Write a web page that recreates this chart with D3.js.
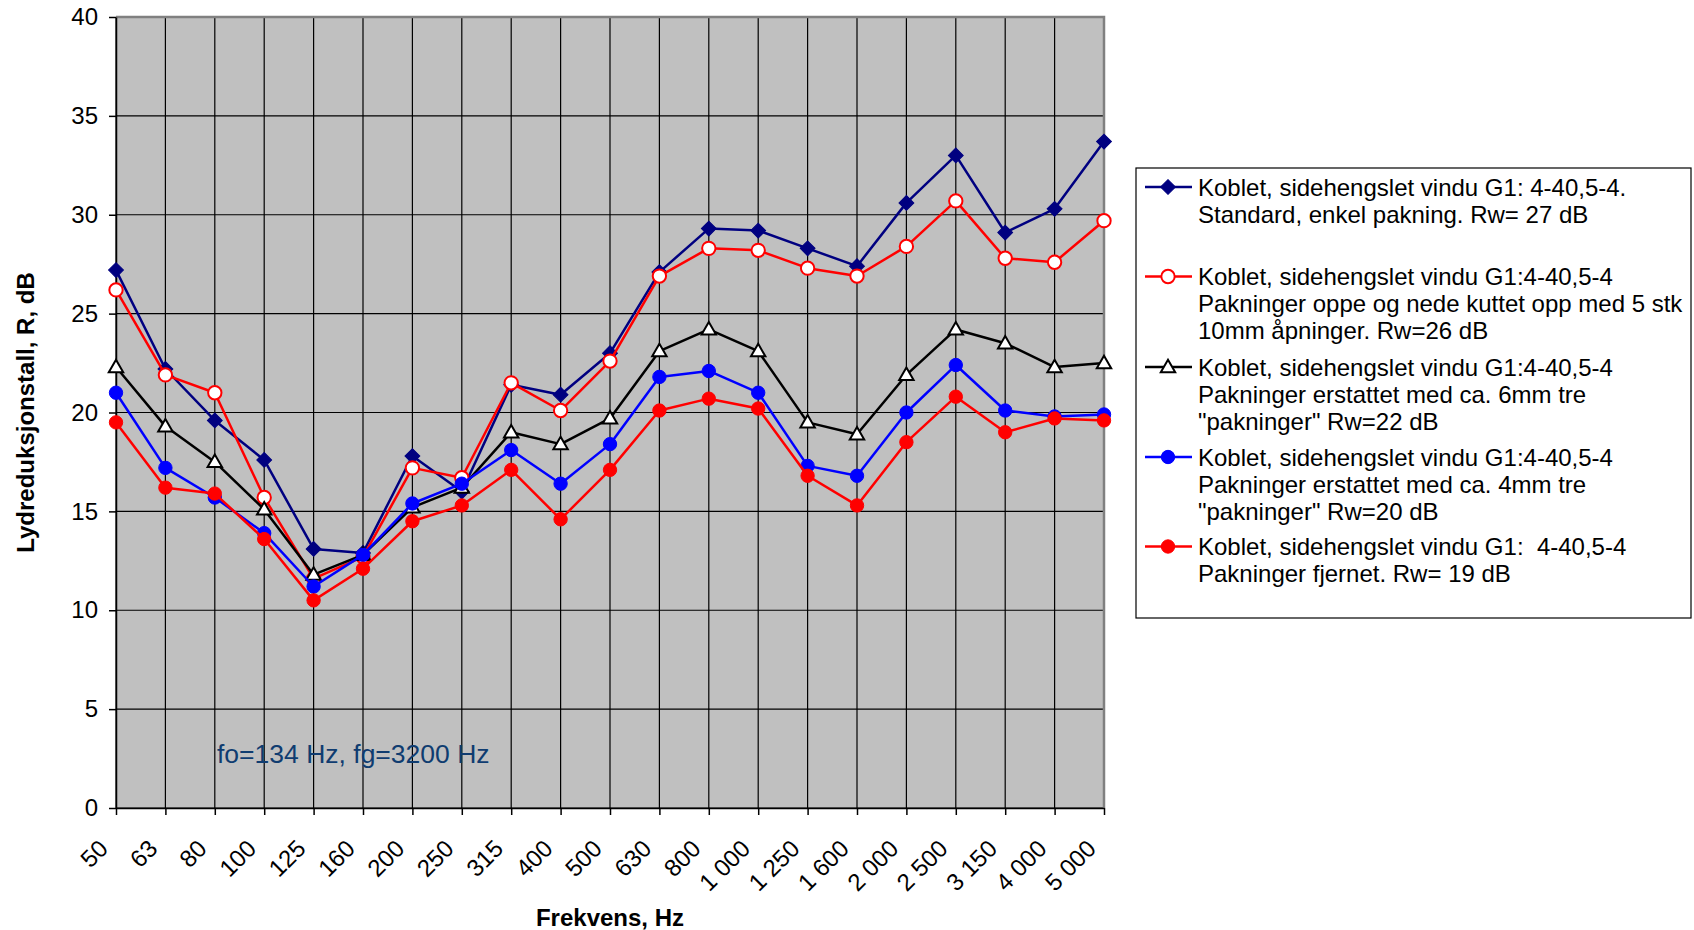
<!DOCTYPE html>
<html>
<head>
<meta charset="utf-8">
<script src="https://cdn.jsdelivr.net/npm/d3@7"></script>
<style>
  body { margin: 0; background: #ffffff; }
  text { font-family: "Liberation Sans", Arial, sans-serif; }
</style>
</head>
<body>
<svg id="chart" width="1694" height="930"></svg>
<script>
// Third-octave band centre frequencies (Hz)
const frequencies = ["50", "63", "80", "100", "125", "160", "200", "250", "315", "400", "500",
  "630", "800", "1 000", "1 250", "1 600", "2 000", "2 500", "3 150", "4 000", "5 000"];

// Sound reduction index R (dB) per band
const standardSeal   = [27.2, 22.2, 19.6, 17.6, 13.1, 12.9, 17.8, 16.0, 21.4, 20.9, 23.0,
  27.1, 29.3, 29.2, 28.3, 27.4, 30.6, 33.0, 29.1, 30.3, 33.7];
const cutSeals       = [26.2, 21.9, 21.0, 15.7, 11.6, 12.7, 17.2, 16.7, 21.5, 20.1, 22.6,
  26.9, 28.3, 28.2, 27.3, 26.9, 28.4, 30.7, 27.8, 27.6, 29.7];
const wood6mm        = [22.3, 19.3, 17.5, 15.1, 11.8, 12.8, 15.2, 16.2, 19.0, 18.4, 19.7,
  23.1, 24.2, 23.1, 19.5, 18.9, 21.9, 24.2, 23.5, 22.3, 22.5];
const wood4mm        = [21.0, 17.2, 15.7, 13.9, 11.2, 12.8, 15.4, 16.4, 18.1, 16.4, 18.4,
  21.8, 22.1, 21.0, 17.3, 16.8, 20.0, 22.4, 20.1, 19.8, 19.9];
const sealsRemoved   = [19.5, 16.2, 15.9, 13.6, 10.5, 12.1, 14.5, 15.3, 17.1, 14.6, 17.1,
  20.1, 20.7, 20.2, 16.8, 15.3, 18.5, 20.8, 19.0, 19.7, 19.6];

const yTicks = [0, 5, 10, 15, 20, 25, 30, 35, 40];

const seriesLabels = [
  ["Koblet, sidehengslet vindu G1: 4-40,5-4.", "Standard, enkel pakning. Rw= 27 dB", ""],
  ["Koblet, sidehengslet vindu G1:4-40,5-4", "Pakninger oppe og nede kuttet opp med 5 stk", "10mm åpninger. Rw=26 dB"],
  ["Koblet, sidehengslet vindu G1:4-40,5-4", "Pakninger erstattet med ca. 6mm tre", "\"pakninger\" Rw=22 dB"],
  ["Koblet, sidehengslet vindu G1:4-40,5-4", "Pakninger erstattet med ca. 4mm tre", "\"pakninger\" Rw=20 dB"],
  ["Koblet, sidehengslet vindu G1:  4-40,5-4", "Pakninger fjernet. Rw= 19 dB"]
];

const series = [
  { values: standardSeal, color: "#000080", marker: "diamond", fill: "#000080" },
  { values: cutSeals,     color: "#ff0000", marker: "circle",  fill: "#ffffff" },
  { values: wood6mm,      color: "#000000", marker: "triangle", fill: "#ffffff" },
  { values: wood4mm,      color: "#0000ff", marker: "circle",  fill: "#0000ff" },
  { values: sealsRemoved, color: "#ff0000", marker: "circle",  fill: "#ff0000" }
];
series.forEach((s, i) => { s.label = seriesLabels[i]; });

const svg = d3.select("#chart");
const plot = { left: 116, right: 1104, top: 17, bottom: 808 };

const x = d3.scalePoint().domain(frequencies).range([plot.left, plot.right]);
const y = d3.scaleLinear().domain([0, 40]).range([plot.bottom, plot.top]);

// plot background
svg.append("rect")
  .attr("x", plot.left).attr("y", plot.top)
  .attr("width", plot.right - plot.left).attr("height", plot.bottom - plot.top)
  .attr("fill", "#c0c0c0");

// grid
const grid = svg.append("g");
grid.selectAll("line.h").data(yTicks).join("line")
  .attr("x1", plot.left).attr("x2", plot.right)
  .attr("y1", d => y(d)).attr("y2", d => y(d))
  .attr("stroke", "#000").attr("stroke-width", 1.2);
grid.selectAll("line.v").data(frequencies).join("line")
  .attr("x1", d => x(d)).attr("x2", d => x(d))
  .attr("y1", plot.top).attr("y2", plot.bottom)
  .attr("stroke", "#000").attr("stroke-width", 1.2);

// plot frame: grey top/right
svg.append("path")
  .attr("d", `M${plot.left},${plot.top}H${plot.right}V${plot.bottom}`)
  .attr("fill", "none").attr("stroke", "#808080").attr("stroke-width", 2.5);

// y axis
const yAxis = svg.append("g")
  .attr("transform", `translate(${plot.left},0)`)
  .call(d3.axisLeft(y).tickValues(yTicks).tickSize(7).tickPadding(11).tickSizeOuter(0));
yAxis.select(".domain").attr("stroke", "#000").attr("stroke-width", 1.5);
yAxis.selectAll(".tick line").attr("stroke", "#000").attr("stroke-width", 1.5);
yAxis.selectAll(".tick text")
  .attr("font-family", "Liberation Sans, Arial, sans-serif")
  .attr("font-size", 24).attr("fill", "#000");

// x axis
const xAxis = svg.append("g")
  .attr("transform", `translate(0,${plot.bottom})`)
  .call(d3.axisBottom(x).tickSize(7).tickSizeOuter(0));
xAxis.select(".domain").attr("stroke", "#000").attr("stroke-width", 1.5);
xAxis.selectAll(".tick line").attr("stroke", "#000").attr("stroke-width", 1.5);
xAxis.selectAll(".tick text")
  .attr("font-family", "Liberation Sans, Arial, sans-serif")
  .attr("font-size", 24).attr("fill", "#000")
  .attr("text-anchor", "end")
  .attr("dy", null)
  .attr("y", 0)
  .attr("transform", "translate(-7,42) rotate(-45)");

// axis titles
svg.append("text")
  .attr("x", (plot.left + plot.right) / 2).attr("y", 926)
  .attr("text-anchor", "middle")
  .attr("font-size", 24).attr("font-weight", "bold")
  .text("Frekvens, Hz");
svg.append("text")
  .attr("transform", `translate(34,${(plot.top + plot.bottom) / 2}) rotate(-90)`)
  .attr("text-anchor", "middle")
  .attr("font-size", 24).attr("font-weight", "bold")
  .text("Lydreduksjonstall, R, dB");

// annotation
svg.append("text")
  .attr("x", 217).attr("y", 763)
  .attr("font-size", 26.5).attr("fill", "#0f3c70")
  .text("fo=134 Hz, fg=3200 Hz");

// marker shapes
function markerPath(type) {
  if (type === "diamond") return d3.symbol(d3.symbolSquare, 110)();
  if (type === "triangle") return d3.symbol(d3.symbolTriangle, 90)();
  return d3.symbol(d3.symbolCircle, 140)();
}
function markerTransform(type, px, py) {
  if (type === "diamond") return `translate(${px},${py}) rotate(45)`;
  if (type === "triangle") return `translate(${px},${py + 1})`;
  return `translate(${px},${py})`;
}

const line = d3.line()
  .x((d, i) => x(frequencies[i]))
  .y(d => y(d));

series.forEach(s => {
  const g = svg.append("g");
  g.append("path")
    .datum(s.values)
    .attr("d", line)
    .attr("fill", "none")
    .attr("stroke", s.color)
    .attr("stroke-width", 2.5)
    .attr("stroke-linejoin", "round");
  g.selectAll("path.mk").data(s.values).join("path")
    .attr("class", "mk")
    .attr("d", markerPath(s.marker))
    .attr("transform", (d, i) => markerTransform(s.marker, x(frequencies[i]), y(d)))
    .attr("fill", s.fill)
    .attr("stroke", s.color)
    .attr("stroke-width", s.fill === "#ffffff" ? 2 : 1);
});

// legend
const legend = { x: 1136, y: 168, w: 555, h: 450 };
svg.append("rect")
  .attr("x", legend.x).attr("y", legend.y)
  .attr("width", legend.w).attr("height", legend.h)
  .attr("fill", "#fff").attr("stroke", "#000").attr("stroke-width", 1.2);

const lineStep = 27;
const entryTops = [187, 276.5, 367, 457, 546.5];
series.forEach((s, i) => {
  const cy = entryTops[i];
  const g = svg.append("g");
  g.append("line")
    .attr("x1", 1145).attr("x2", 1192)
    .attr("y1", cy).attr("y2", cy)
    .attr("stroke", s.color).attr("stroke-width", 2.5);
  g.append("path")
    .attr("d", markerPath(s.marker))
    .attr("transform", markerTransform(s.marker, 1168, cy))
    .attr("fill", s.fill)
    .attr("stroke", s.color)
    .attr("stroke-width", s.fill === "#ffffff" ? 2 : 1);
  const t = g.append("text")
    .attr("x", 1198).attr("y", cy)
    .attr("font-size", 24).attr("fill", "#000")
    .style("white-space", "pre");
  s.label.filter(l => l !== "").forEach((l, k) => {
    t.append("tspan")
      .attr("x", 1198)
      .attr("y", cy + k * lineStep)
      .attr("dy", "0.36em")
      .text(l);
  });
});
</script>
</body>
</html>
